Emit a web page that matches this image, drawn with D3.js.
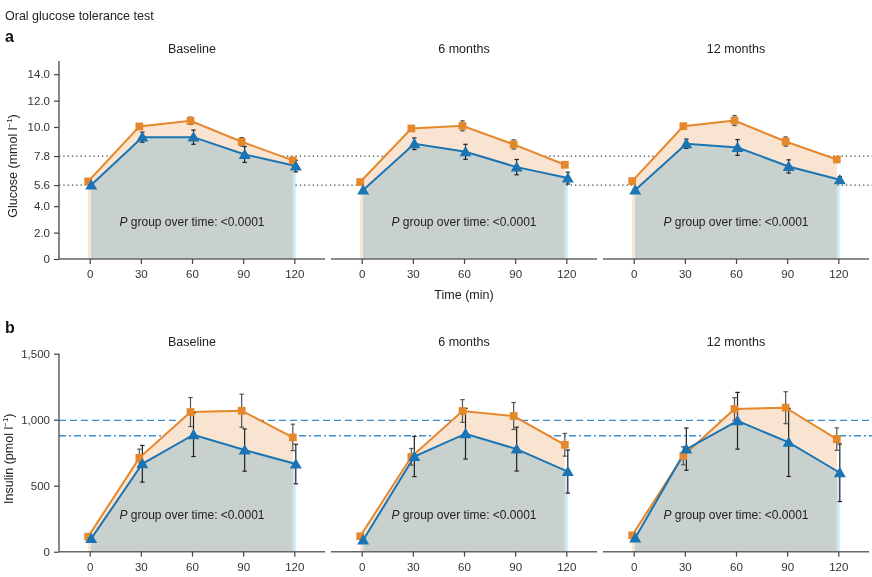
<!DOCTYPE html>
<html>
<head>
<meta charset="utf-8">
<script src="https://cdn.jsdelivr.net/npm/d3@7"></script>
<style>
  body { margin: 0; background: #fff; }
  svg { font-family: "Liberation Sans", Arial, sans-serif; }
</style>
</head>
<body>
<div id="chart"></div>
<script>
const times = [0, 30, 60, 90, 120]
const periods = ['Baseline', '6 months', '12 months']

// glucose (mmol l-1), one row per period
const glucoseOrange = [
  [5.88, 10.04, 10.47, 8.88, 7.47],
  [5.83, 9.89, 10.09, 8.68, 7.14],
  [5.9, 10.06, 10.49, 8.9, 7.54]
]
const glucoseOrangeErr = [
  [0.12, 0.15, 0.28, 0.32, 0.2],
  [0.12, 0.12, 0.38, 0.35, 0.2],
  [0.12, 0.12, 0.38, 0.35, 0.2]
]
const glucoseBlue = [
  [5.6, 9.23, 9.23, 7.92, 7.04],
  [5.22, 8.73, 8.12, 6.96, 6.13],
  [5.22, 8.73, 8.45, 7.01, 6.0]
]
const glucoseBlueErr = [
  [0.1, 0.38, 0.54, 0.6, 0.44],
  [0.1, 0.44, 0.57, 0.58, 0.45],
  [0.1, 0.35, 0.6, 0.5, 0.24]
]
const glucoseTicks = [0, 2, 4, 5.6, 7.8, 10, 12, 14]
const glucoseRefs = [5.6, 7.8]

// insulin (pmol l-1)
const insulinOrange = [
  [114, 711, 1058, 1068, 866],
  [117, 719, 1066, 1028, 810],
  [124, 727, 1081, 1091, 853]
]
const insulinOrangeErr = [
  [15, 66, 110, 125, 100],
  [15, 63, 86, 102, 86],
  [15, 68, 86, 121, 85]
]
const insulinBlue = [
  [99, 666, 886, 770, 664],
  [89, 721, 894, 777, 607],
  [104, 777, 992, 828, 598]
]
const insulinBlueErr = [
  [12, 139, 165, 160, 150],
  [12, 152, 192, 166, 163],
  [12, 160, 215, 258, 218]
]
const insulinTicks = [0, 500, 1000, 1500]
const insulinDashed = 995
const insulinDashDot = 878

const orange = '#e5872b'
const blue = '#1b74b3'
const panelLeft = [59, 331, 603]
const panelWidth = 266

const svg = d3.select('#chart')
  .append('svg')
  .attr('width', 872)
  .attr('height', 577)

svg.append('text').attr('x', 5).attr('y', 20)
  .attr('font-size', 12.5).attr('fill', '#222')
  .text('Oral glucose tolerance test')

function drawRow(opts) {
  const yScale = d3.scaleLinear().domain(opts.domain).range([opts.bottom, opts.top])

  svg.append('text').attr('x', 5).attr('y', opts.letterY)
    .attr('font-size', 16).attr('font-weight', 'bold').attr('fill', '#111')
    .text(opts.letter)

  // reference lines (behind the fills)
  opts.refs.forEach((r) => {
    svg.append('line')
      .attr('x1', panelLeft[0]).attr('x2', 872)
      .attr('y1', yScale(r.v)).attr('y2', yScale(r.v))
      .attr('stroke', r.color).attr('stroke-width', r.width)
      .attr('stroke-dasharray', r.dash)
  })

  periods.forEach((p, i) => {
    const xScale = d3.scaleLinear()
      .domain([-18, 138])
      .range([panelLeft[i], panelLeft[i] + panelWidth])
    const g = svg.append('g')

    const series = [
      { vals: opts.orange[i], err: opts.orangeErr[i], color: orange, fill: '#f9e4d1', dx: -1.5, sym: d3.symbolSquare, size: 60 },
      { vals: opts.blue[i], err: opts.blueErr[i], color: blue, fill: '#cdeafb', dx: 1.5, sym: d3.symbolTriangle, size: 62 }
    ]

    series.forEach((s, k) => {
      const pts = times.map((t, j) => ({ x: xScale(t) + s.dx, v: s.vals[j], e: s.err[j] }))
      g.append('path')
        .datum(pts)
        .attr('fill', s.fill)
        .style('mix-blend-mode', k === 1 ? 'multiply' : 'normal')
        .attr('d', d3.area().x((d) => d.x).y0(yScale(0)).y1((d) => yScale(d.v)))
      s.pts = pts
    })

    series.forEach((s) => {
      g.append('path')
        .datum(s.pts)
        .attr('fill', 'none')
        .attr('stroke', s.color)
        .attr('stroke-width', 2)
        .attr('d', d3.line().x((d) => d.x).y((d) => yScale(d.v)))
    })

    series.forEach((s, k) => {
      const eb = g.selectAll(null).data(s.pts).enter().append('g')
        .attr('stroke', k === 0 ? '#555' : '#222').attr('stroke-width', 1.2)
      eb.append('line')
        .attr('x1', (d) => d.x).attr('x2', (d) => d.x)
        .attr('y1', (d) => yScale(d.v - d.e)).attr('y2', (d) => yScale(d.v + d.e))
      eb.append('line')
        .attr('x1', (d) => d.x - 2.2).attr('x2', (d) => d.x + 2.2)
        .attr('y1', (d) => yScale(d.v + d.e)).attr('y2', (d) => yScale(d.v + d.e))
      eb.append('line')
        .attr('x1', (d) => d.x - 2.2).attr('x2', (d) => d.x + 2.2)
        .attr('y1', (d) => yScale(d.v - d.e)).attr('y2', (d) => yScale(d.v - d.e))
    })

    series.forEach((s) => {
      g.selectAll(null).data(s.pts).enter().append('path')
        .attr('transform', (d) => `translate(${d.x},${yScale(d.v) + (s.sym === d3.symbolTriangle ? 1 : 0)})`)
        .attr('d', d3.symbol().type(s.sym).size(s.size))
        .attr('fill', s.color)
    })

    // x axis
    const xAxis = svg.append('g')
      .attr('transform', `translate(0,${opts.bottom})`)
      .call(d3.axisBottom(xScale).tickValues(times).tickSize(5).tickPadding(6))
    xAxis.select('.domain').attr('stroke', '#666').attr('stroke-width', 1.6)
      .attr('d', `M${panelLeft[i]},0H${panelLeft[i] + panelWidth}`)
    xAxis.selectAll('.tick line').attr('stroke', '#444').attr('stroke-width', 1.2)
    xAxis.selectAll('.tick text').attr('font-size', 11.5).attr('fill', '#333')
      .attr('font-family', '"Liberation Sans", Arial, sans-serif')

    svg.append('text')
      .attr('x', xScale(60)).attr('y', opts.top - 8)
      .attr('text-anchor', 'middle').attr('font-size', 12.5).attr('fill', '#222')
      .text(p)

    const pt = svg.append('text')
      .attr('x', xScale(60)).attr('y', yScale(opts.pY))
      .attr('text-anchor', 'middle').attr('font-size', 12).attr('fill', '#222')
    pt.append('tspan').attr('font-style', 'italic').text('P')
    pt.append('tspan').text(' group over time: <0.0001')
  })

  // y axis
  const yAxis = svg.append('g')
    .attr('transform', `translate(${panelLeft[0]},0)`)
    .call(d3.axisLeft(yScale).tickValues(opts.ticks).tickFormat(opts.fmt).tickSize(5).tickPadding(4))
  yAxis.select('.domain').attr('stroke', '#555').attr('stroke-width', 1.4)
    .attr('d', `M0,${opts.top}V${opts.bottom}`)
  yAxis.selectAll('.tick line').attr('stroke', '#444').attr('stroke-width', 1.2)
  yAxis.selectAll('.tick text').attr('font-size', 11.5).attr('fill', '#333')
    .attr('font-family', '"Liberation Sans", Arial, sans-serif')

  const lab = svg.append('text')
    .attr('transform', `translate(${opts.labelX},${(opts.top + opts.bottom) / 2 + 6}) rotate(-90)`)
    .attr('text-anchor', 'middle').attr('font-size', 12.5).attr('fill', '#222')
  lab.append('tspan').text(opts.label)
  lab.append('tspan').attr('font-size', 8).attr('dy', -5).text('−1')
  lab.append('tspan').attr('dy', 5).text(')')
}

drawRow({
  letter: 'a', letterY: 42,
  domain: [0, 15], top: 61, bottom: 259,
  orange: glucoseOrange, orangeErr: glucoseOrangeErr,
  blue: glucoseBlue, blueErr: glucoseBlueErr,
  ticks: glucoseTicks, fmt: (d) => d === 0 ? '0' : d3.format('.1f')(d),
  refs: glucoseRefs.map((v) => ({ v, color: '#444', width: 1.3, dash: '1.3,3' })),
  pY: 2.5, label: 'Glucose (mmol l', labelX: 17
})

svg.append('text').attr('x', 464).attr('y', 299)
  .attr('text-anchor', 'middle').attr('font-size', 12.5).attr('fill', '#222')
  .text('Time (min)')

drawRow({
  letter: 'b', letterY: 333,
  domain: [0, 1500], top: 353.7, bottom: 551.7,
  orange: insulinOrange, orangeErr: insulinOrangeErr,
  blue: insulinBlue, blueErr: insulinBlueErr,
  ticks: insulinTicks, fmt: d3.format(','),
  refs: [
    { v: insulinDashed, color: '#3d8fc9', width: 1.4, dash: '7,4' },
    { v: insulinDashDot, color: '#3d8fc9', width: 1.4, dash: '7,3,2,3' }
  ],
  pY: 250, label: 'Insulin (pmol l', labelX: 13
})
</script>
</body>
</html>
